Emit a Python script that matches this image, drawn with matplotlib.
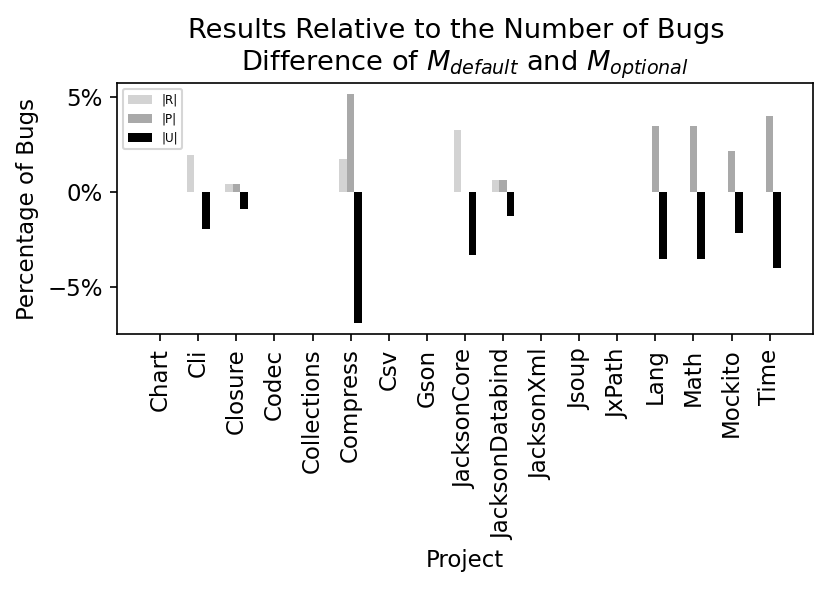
import numpy as np
import matplotlib.pyplot as plt
from matplotlib.ticker import PercentFormatter

projects = ['Chart', 'Cli', 'Closure', 'Codec', 'Collections', 'Compress', 'Csv',
            'Gson', 'JacksonCore', 'JacksonDatabind', 'JacksonXml', 'Jsoup',
            'JxPath', 'Lang', 'Math', 'Mockito', 'Time']

# differences in percent of bugs
r_diff = [0, 1.96, 0.45, 0, 0, 1.74, 0, 0, 3.3, 0.65, 0, 0, 0, 0, 0, 0, 0]
p_diff = [0, 0, 0.45, 0, 0, 5.15, 0, 0, 0, 0.65, 0, 0, 0, 3.49, 3.49, 2.17, 4.0]
u_diff = [0, -1.96, -0.9, 0, 0, -6.86, 0, 0, -3.3, -1.27, 0, 0, 0, -3.49, -3.49, -2.17, -4.0]

x = np.arange(len(projects))
w = 0.2

plt.rcParams['font.size'] = 11
fig = plt.figure(figsize=(831 / 150, 589 / 150), dpi=150)
ax = fig.add_axes([0.141, 0.433, 0.837, 0.426])

ax.bar(x - w, r_diff, w, color='lightgray', label='|R|')
ax.bar(x, p_diff, w, color='darkgray', label='|P|')
ax.bar(x + w, u_diff, w, color='black', label='|U|')

ax.set_xticks(x)
ax.set_xticklabels(projects, rotation=90)
ax.set_yticks([-5, 0, 5])
ax.yaxis.set_major_formatter(PercentFormatter(decimals=0))
ax.set_xlabel('Project')
ax.set_ylabel('Percentage of Bugs')
ax.set_title('Results Relative to the Number of Bugs  \n'
             'Difference of $M_{default}$ and $M_{optional}$', fontsize=13.1)
ax.legend(loc='upper left', fontsize=5.7)

plt.savefig('out.png', dpi=150)
